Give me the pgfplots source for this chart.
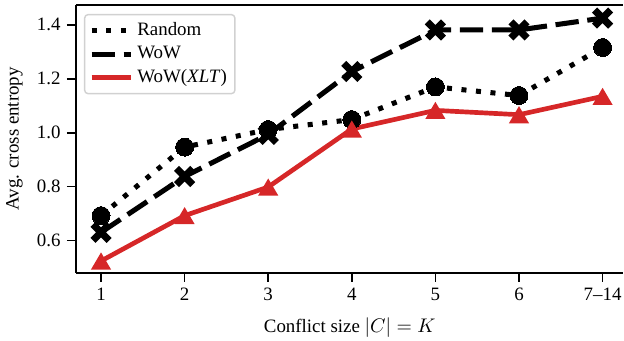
\documentclass[border=0pt]{standalone}
\usepackage{fontspec}
\setmainfont{Liberation Serif}
\usepackage{pgfplots}
\pgfplotsset{compat=1.18}
\definecolor{mred}{RGB}{214,39,40}
\makeatletter
\pgfdeclareplotmark{fatx}{%
  \pgftransformrotate{45}%
  \pgfpathmoveto{\pgfpoint{0.38\pgfplotmarksize}{0.38\pgfplotmarksize}}%
  \pgfpathlineto{\pgfpoint{0.38\pgfplotmarksize}{1.22\pgfplotmarksize}}%
  \pgfpathlineto{\pgfpoint{-0.38\pgfplotmarksize}{1.22\pgfplotmarksize}}%
  \pgfpathlineto{\pgfpoint{-0.38\pgfplotmarksize}{0.38\pgfplotmarksize}}%
  \pgfpathlineto{\pgfpoint{-1.22\pgfplotmarksize}{0.38\pgfplotmarksize}}%
  \pgfpathlineto{\pgfpoint{-1.22\pgfplotmarksize}{-0.38\pgfplotmarksize}}%
  \pgfpathlineto{\pgfpoint{-0.38\pgfplotmarksize}{-0.38\pgfplotmarksize}}%
  \pgfpathlineto{\pgfpoint{-0.38\pgfplotmarksize}{-1.22\pgfplotmarksize}}%
  \pgfpathlineto{\pgfpoint{0.38\pgfplotmarksize}{-1.22\pgfplotmarksize}}%
  \pgfpathlineto{\pgfpoint{0.38\pgfplotmarksize}{-0.38\pgfplotmarksize}}%
  \pgfpathlineto{\pgfpoint{1.22\pgfplotmarksize}{-0.38\pgfplotmarksize}}%
  \pgfpathlineto{\pgfpoint{1.22\pgfplotmarksize}{0.38\pgfplotmarksize}}%
  \pgfpathclose
  \pgfusepathqfill
}
\pgfdeclareplotmark{mtri}{%
  \pgfpathmoveto{\pgfpoint{0pt}{0.85\pgfplotmarksize}}%
  \pgfpathlineto{\pgfpoint{-\pgfplotmarksize}{-0.85\pgfplotmarksize}}%
  \pgfpathlineto{\pgfpoint{\pgfplotmarksize}{-0.85\pgfplotmarksize}}%
  \pgfpathclose
  \pgfusepathqfill
}
\makeatother
\begin{document}
\begin{tikzpicture}
\begin{axis}[
  scale only axis,
  width=304.2pt, height=148.9pt,
  xmin=0.70, xmax=7.25,
  ymin=0.481, ymax=1.474,
  axis lines=left,
  axis line style={-, line width=0.8pt},
  tick align=outside,
  major tick length=5pt,
  tick style={line width=0.8pt, black},
  xtick={1,2,3,4,5,6,7},
  xticklabels={1,2,3,4,5,6,7--14},
  ytick={0.6,0.8,1.0,1.2,1.4},
  yticklabel style={/pgf/number format/fixed, /pgf/number format/fixed zerofill, /pgf/number format/precision=1},
  /pgf/number format/assume math mode=true,
  xlabel={Conflict size $|C| = K$},
  ylabel={Avg. cross entropy},
  xlabel style={yshift=-2.5pt},
  ylabel style={yshift=1pt},
  label style={font=\fontsize{10.5}{12.5}\selectfont},
  tick label style={font=\fontsize{10.5}{12.5}\selectfont},
  legend style={at={(0,1)}, anchor=north west, xshift=4.4pt, yshift=-5pt,
    draw=black!18, rounded corners=2pt, line width=0.8pt,
    font=\fontsize{10.5}{12.5}\selectfont, row sep=0.5pt, inner sep=2.5pt,
    /tikz/every even column/.append style={column sep=2pt}},
  legend cell align=left,
  legend image code/.code={\draw[#1,mark=none] (0pt,0pt) -- (22pt,0pt);},
  clip=false,
]
\draw[line width=0.8pt] (rel axis cs:0,1) -- (rel axis cs:1,1);
\addplot[black, line width=2.8pt, dash pattern=on 2.8pt off 5.3pt, mark=*, mark size=5pt, mark options={solid, line width=0pt}]
  coordinates {(1,0.693) (2,0.947) (3,1.012) (4,1.049) (5,1.170) (6,1.138) (7,1.316)};
\addlegendentry{Random}
\addplot[black, line width=2.8pt, dash pattern=on 13pt off 4.8pt, mark=fatx, mark size=5.2pt, mark options={solid}]
  coordinates {(1,0.631) (2,0.838) (3,0.994) (4,1.227) (5,1.381) (6,1.381) (7,1.425)};
\addlegendentry{WoW}
\addplot[mred, line width=2.6pt, mark=mtri, mark size=5.6pt, mark options={solid}]
  coordinates {(1,0.525) (2,0.693) (3,0.799) (4,1.014) (5,1.083) (6,1.067) (7,1.135)};
\addlegendentry{WoW(\textit{XLT})}
\end{axis}
\pgfresetboundingbox
\useasboundingbox (current axis.south west) ++(-42.2pt,-37.8pt) rectangle ++(346.7pt,189.4pt);
\end{tikzpicture}
\end{document}
